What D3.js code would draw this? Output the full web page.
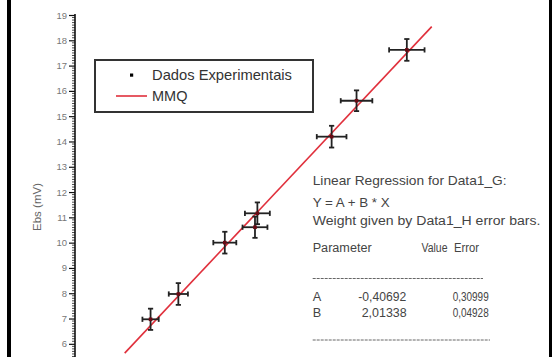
<!DOCTYPE html>
<html>
<head>
<meta charset="utf-8">
<script src="https://cdn.jsdelivr.net/npm/d3@7"></script>
<style>
  html, body { margin: 0; padding: 0; background: #fff; }
  svg { display: block; font-family: "Liberation Sans", Arial, sans-serif; }
</style>
</head>
<body>
<svg id="chart" width="553" height="357"></svg>
<script>
// Measured potential vs. concentration-related quantity, with error bars
const xValues = [3.54, 4.12, 5.09, 5.72, 5.77, 7.32, 7.84, 8.89];
const yValues = [6.97, 7.97, 10.00, 10.61, 11.16, 14.19, 15.61, 17.62];
const xErrors = [0.17, 0.20, 0.24, 0.26, 0.26, 0.31, 0.33, 0.37];
const yErrors = [0.42, 0.43, 0.43, 0.42, 0.43, 0.43, 0.41, 0.43];

// Least-squares fit parameters (Y = A + B * X)
const paramNames = ["A", "B"];
const paramValues = ["-0,40692", "2,01338"];
const paramErrors = ["0,30999", "0,04928"];
const fitA = -0.40692;
const fitB = 2.01338;
const fitRange = [3.0, 9.41];

const yTickValues = [6, 7, 8, 9, 10, 11, 12, 13, 14, 15, 16, 17, 18, 19];

const svg = d3.select("#chart");

const x = d3.scaleLinear().domain([2, 10]).range([76.8, 460]);
const y = d3.scaleLinear().domain([5.4, 19]).range([359, 15]);

// outer frame
svg.append("line").attr("x1", 9).attr("x2", 9).attr("y1", 0).attr("y2", 357)
  .attr("stroke", "#000").attr("stroke-width", 4);
svg.append("line").attr("x1", 550.5).attr("x2", 550.5).attr("y1", 0).attr("y2", 357)
  .attr("stroke", "#000").attr("stroke-width", 3);

// Y axis with minor ticks
const minorTicks = d3.range(54, 191).map(d => d / 10).filter(v => Math.abs(v - Math.round(v)) > 1e-6);
const axisX = 75;
const minorG = svg.append("g").attr("transform", `translate(${axisX},0)`);
minorG.selectAll("line").data(minorTicks).join("line")
  .attr("x1", -3).attr("x2", 0)
  .attr("y1", d => y(d)).attr("y2", d => y(d))
  .attr("stroke", "#222").attr("stroke-width", 0.8);

const yAxis = d3.axisLeft(y).tickValues(yTickValues).tickSize(6).tickPadding(2)
  .tickFormat(d3.format("d"));
const yg = svg.append("g").attr("transform", `translate(${axisX},0)`).call(yAxis);
yg.select(".domain").attr("stroke", "#111").attr("stroke-width", 1.6)
  .attr("d", `M0,${y(19) - 1}V357`);
yg.selectAll(".tick line").attr("stroke", "#111").attr("stroke-width", 1.2);
yg.selectAll(".tick text").attr("fill", "#777").attr("font-size", 9.5)
  .attr("font-family", "Liberation Sans, Arial, sans-serif");

svg.append("text")
  .attr("transform", `translate(41,207) rotate(-90)`)
  .attr("text-anchor", "middle")
  .attr("fill", "#666").attr("font-size", 11.5)
  .text("Ebs (mV)");

// regression line
const fitLine = d3.line().x(d => x(d)).y(d => y(fitA + fitB * d));
svg.append("path").datum(fitRange).attr("d", fitLine)
  .attr("fill", "none").attr("stroke", "#e0303c").attr("stroke-width", 1.6);

// error bars
const pts = xValues.map((v, i) => ({ x: v, y: yValues[i], ex: xErrors[i], ey: yErrors[i] }));
const eb = svg.append("g").attr("stroke", "#222").attr("stroke-width", 1.8).attr("fill", "none");
const cap = 2.6;
pts.forEach(p => {
  const cx = x(p.x), cy = y(p.y);
  const x0 = x(p.x - p.ex), x1 = x(p.x + p.ex);
  const y0 = y(p.y - p.ey), y1 = y(p.y + p.ey);
  eb.append("line").attr("x1", x0).attr("x2", x1).attr("y1", cy).attr("y2", cy);
  eb.append("line").attr("x1", cx).attr("x2", cx).attr("y1", y0).attr("y2", y1);
  eb.append("line").attr("x1", x0).attr("x2", x0).attr("y1", cy - cap).attr("y2", cy + cap);
  eb.append("line").attr("x1", x1).attr("x2", x1).attr("y1", cy - cap).attr("y2", cy + cap);
  eb.append("line").attr("x1", cx - cap).attr("x2", cx + cap).attr("y1", y0).attr("y2", y0);
  eb.append("line").attr("x1", cx - cap).attr("x2", cx + cap).attr("y1", y1).attr("y2", y1);
});
svg.append("g").selectAll("rect").data(pts).join("rect")
  .attr("x", d => x(d.x) - 1.8).attr("y", d => y(d.y) - 1.8)
  .attr("width", 3.6).attr("height", 3.6).attr("fill", "#6a0a14");

// legend
const lg = svg.append("g");
lg.append("rect").attr("x", 95).attr("y", 60).attr("width", 218).attr("height", 52)
  .attr("fill", "#fff").attr("stroke", "#333").attr("stroke-width", 2);
lg.append("rect").attr("x", 130).attr("y", 73.5).attr("width", 3.2).attr("height", 3.2).attr("fill", "#000");
lg.append("text").attr("x", 152).attr("y", 80).attr("font-size", 14.5).attr("fill", "#333")
  .attr("textLength", 140).attr("lengthAdjust", "spacingAndGlyphs")
  .text("Dados Experimentais");
lg.append("line").attr("x1", 116).attr("x2", 147).attr("y1", 96).attr("y2", 96)
  .attr("stroke", "#e0303c").attr("stroke-width", 1.6);
lg.append("text").attr("x", 152).attr("y", 101).attr("font-size", 14.5).attr("fill", "#333")
  .text("MMQ");

// fit report: each line is squeezed horizontally to its column width
const rp = svg.append("g").attr("fill", "#444").attr("font-size", 13.5);
const tx = 312.7;
function fitText(xp, yp, len, str) {
  const t = rp.append("text").text(str);
  const natural = t.node().getComputedTextLength() || len;
  t.attr("transform", `translate(${xp},${yp}) scale(${len / natural},1)`);
}
fitText(tx, 185, 194, "Linear Regression for Data1_G:");
fitText(tx, 206.5, 77, "Y = A + B * X");
fitText(tx, 225, 228, "Weight given by Data1_H error bars.");
fitText(tx, 252, 59, "Parameter");
fitText(421.5, 252, 26, "Value");
fitText(454, 252, 25, "Error");
rp.append("line").attr("x1", tx).attr("x2", 483).attr("y1", 278.5).attr("y2", 278.5)
  .attr("stroke", "#666").attr("stroke-width", 1).attr("stroke-dasharray", "3,1");
paramNames.forEach((n, i) => {
  const by = 301 + i * 15.5;
  fitText(tx, by, 8.5, n);
  fitText(paramValues[i].startsWith("-") ? 358.3 : 361.7, by, paramValues[i].startsWith("-") ? 48 : 45, paramValues[i]);
  fitText(452.7, by, 36, paramErrors[i]);
});
rp.append("line").attr("x1", tx).attr("x2", 490).attr("y1", 340).attr("y2", 340)
  .attr("stroke", "#666").attr("stroke-width", 1).attr("stroke-dasharray", "3,1");
</script>
</body>
</html>
